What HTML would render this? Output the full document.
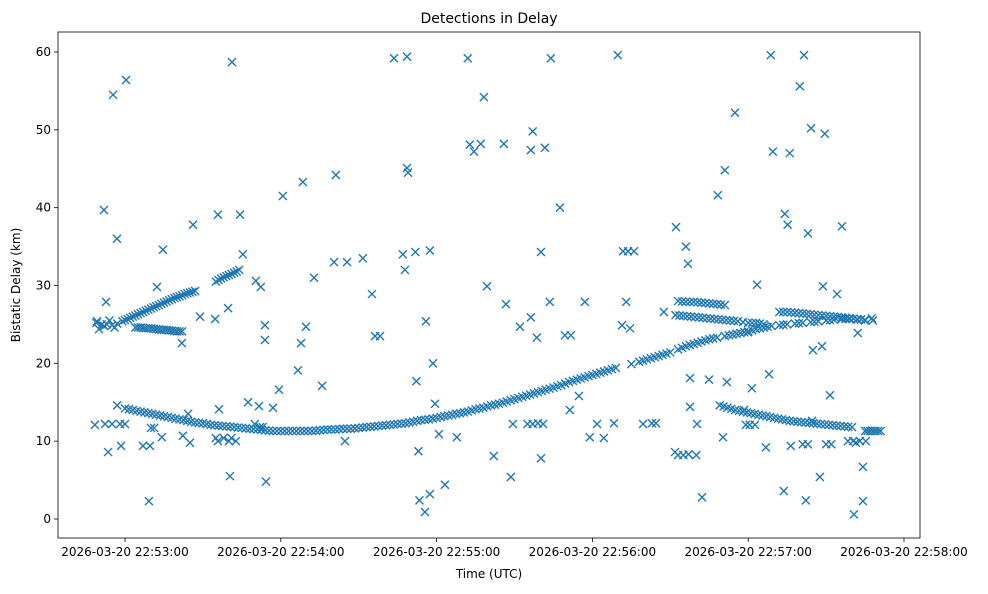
<!DOCTYPE html>
<html><head><meta charset="utf-8"><style>
body{margin:0;background:#fff;font-family:"DejaVu Sans","Liberation Sans",sans-serif;}
svg text{font-family:"DejaVu Sans","Liberation Sans",sans-serif;fill:#000;}
</style></head><body>
<svg id="chart" width="988" height="590">
<text x="489" y="23" font-size="14" text-anchor="middle">Detections in Delay</text>
<text x="489" y="578" font-size="12" text-anchor="middle">Time (UTC)</text>
<text transform="translate(20,285) rotate(-90)" font-size="12" text-anchor="middle">Bistatic Delay (km)</text>
<g id="marks"></g>
<g id="axes"></g>
</svg>
<script>
// seconds after 22:53:00 UTC, bistatic delay in km
const lowTrackT=[-3,0,3,6,9,12,15,18,21,24,27,30,33,36,39,42,45,48,51,54,57,60,63,66,69,72,75,78,81,84,87,90,93,96,99,102,105,108,111,114,117,120,123,126,129,132,135,138,141,144,147,150,153,156,159,162,165,168,171,174,177,180,183,186,189,195,198,201,204,207,210,213,216,219,222,225,228,231,234,237,240,243,246,249,252,255,258,261,264,267,270,273,276,279,282,285,288];
const lowTrackV=[14.6,14.2,14.0,13.8,13.6,13.4,13.2,13.0,12.8,12.6,12.4,12.3,12.1,12.0,11.9,11.8,11.7,11.6,11.5,11.4,11.3,11.3,11.3,11.3,11.3,11.3,11.4,11.5,11.5,11.6,11.6,11.7,11.8,11.9,12.0,12.1,12.2,12.3,12.5,12.7,12.8,13.0,13.2,13.4,13.6,13.8,14.1,14.3,14.6,14.8,15.1,15.4,15.7,16.0,16.3,16.6,16.9,17.2,17.6,17.9,18.2,18.5,18.8,19.1,19.4,19.9,20.2,20.5,20.8,21.1,21.4,21.8,22.2,22.5,22.8,23.1,23.3,23.5,23.7,23.9,24.1,24.4,24.6,24.8,24.9,25.0,25.1,25.2,25.3,25.4,25.5,25.6,25.7,25.7,25.6,25.5,25.5];
const lowTrackExtraT=[1.5,4.5,7.5,10.5,13.5,16.5,19.5,22.5,25.5,28.5,31.5,34.5,37.5,40.5,43.5,46.5,49.5,52.5,55.5,58.5,61.5,64.5,67.5,70.5,73.5,76.5,79.5,82.5,85.5,88.5,91.5,94.5,97.5,100.5,103.5,106.5,109.5,112.5,115.5,118.5,121.5,124.5,127.5,130.5,133.5,136.5,139.5,142.5,145.5,148.5,151.5,154.5,157.5,160.5,163.5,166.5,169.5,172.5,175.5,178.5,181.5,184.5,187.5,199.5,202.5,205.5,208.5,214.5,217.5,220.5,223.5,226.5,232.5,235.5,238.5,241.5,244.5,247.5,253.5,259.5,265.5,271.5,277.5];
const lowTrackExtraV=[14.1,13.9,13.7,13.5,13.3,13.1,12.9,12.7,12.5,12.35,12.2,12.05,11.95,11.85,11.75,11.65,11.55,11.45,11.35,11.3,11.3,11.3,11.3,11.3,11.35,11.45,11.5,11.55,11.6,11.65,11.75,11.85,11.95,12.05,12.15,12.25,12.4,12.6,12.75,12.9,13.1,13.3,13.5,13.7,13.95,14.2,14.45,14.7,14.95,15.25,15.55,15.85,16.15,16.45,16.75,17.05,17.4,17.75,18.05,18.35,18.65,18.95,19.25,20.35,20.65,20.95,21.25,22.0,22.35,22.65,22.95,23.2,23.6,23.8,24.0,24.25,24.5,24.7,24.95,25.15,25.35,25.55,25.7];
const upperLeftT=[-11,-9,-7,-5,-3,-1,1,3,5,7,9,11,13,15,17,19,21,23,25,27,35,37,39,41,43,44,-10,-8,-6,-4,0,2,4,6,8,10,12,14,16,18,20,22,24,26,36,38,40,42];
const upperLeftV=[25.2,25.0,25.0,24.9,25.1,25.4,25.7,26.0,26.3,26.6,26.9,27.2,27.5,27.8,28.1,28.4,28.6,28.9,29.1,29.3,30.5,30.9,31.2,31.5,31.8,32.0,24.4,24.8,25.5,24.6,25.55,25.85,26.15,26.45,26.75,27.05,27.35,27.65,27.95,28.25,28.5,28.75,29.0,29.2,30.7,31.05,31.35,31.65];
const midLeftT=[4,6,8,10,12,14,16,18,20,22,5,7,9,11,13,15,17,19,21];
const midLeftV=[24.6,24.6,24.5,24.5,24.4,24.3,24.3,24.2,24.1,24.1,24.6,24.55,24.5,24.45,24.35,24.3,24.25,24.15,24.1];
const rightUpperT=[213,216,219,222,225,228,231,212,215,218,221,224,227,230,233,236,240,243,246,252,255,258,261,264,267,270,273,276,279,282,285,214.5,217.5,220.5,223.5,226.5,229.5,213.5,216.5,219.5,222.5,225.5,228.5,231.5,234.5,238,241.5,244.5,253.5,256.5,259.5,262.5,265.5,268.5,271.5,274.5,277.5,280.5,283.5];
const rightUpperV=[28.0,27.9,27.9,27.8,27.7,27.6,27.5,26.2,26.1,26.0,25.9,25.8,25.7,25.6,25.5,25.4,25.2,25.2,25.0,26.6,26.6,26.5,26.4,26.3,26.2,26.1,26.0,25.9,25.8,25.7,25.6,27.95,27.9,27.85,27.75,27.65,27.55,26.15,26.05,25.95,25.85,25.75,25.65,25.55,25.45,25.3,25.2,25.1,26.6,26.55,26.45,26.35,26.25,26.15,26.05,25.95,25.85,25.75,25.65];
const rightLowT=[229,232,235,238,241,244,247,250,253,256,259,262,265,268,271,274,277,280,285,287,289,291,230.5,233.5,236.5,239.5,242.5,245.5,248.5,251.5,254.5,257.5,260.5,263.5,266.5,269.5,272.5,275.5,278.5,286,288,290];
const rightLowV=[14.6,14.3,14.0,13.8,13.6,13.4,13.2,13.0,12.8,12.6,12.5,12.4,12.3,12.2,12.1,12.0,11.9,11.8,11.3,11.3,11.3,11.3,14.45,14.15,13.9,13.7,13.5,13.3,13.1,12.9,12.7,12.55,12.45,12.35,12.25,12.15,12.05,11.95,11.85,11.3,11.3,11.3];
const outlierT=[-10.8,-8.1,-7.3,-4.6,-3.1,0.4,-6.5,-11.6,-7.7,-5,-1.9,0,-1.5,9.2,6.9,9.6,10,11.2,14.2,12.3,14.6,21.9,26.2,24.3,22.3,25,28.9,34.7,35.8,36.2,35.8,40.4,41.2,39.7,40,42.7,44.3,45.4,47.4,50.4,52.3,51.6,53.9,53.9,54.3,57,59.3,60.8,66.6,67.8,68.5,69.7,72.8,75.9,81.2,80.5,84.7,85.5,91.6,95.1,96.3,98.2,103.6,107,107.8,108.6,108.6,109,111.8,112.2,113,113.4,115.5,115.9,117.4,117.4,118.6,119.4,120.9,123.2,127.8,132,132.8,134.4,137,138.2,139.4,142,145.9,148.6,146.7,149.4,152.1,156.3,157,156.3,160.2,160.2,158.6,161.7,164,163.6,167.5,169.4,171.7,171.3,174.8,177.1,179,181.8,184.4,188.3,189.8,191.4,191.8,193,193.7,194.5,196,199.5,202.9,204.5,207.5,211.8,212.2,216,216.8,217.6,217.6,220.3,222.2,224.9,228.3,231,231.8,230.3,234.9,238.4,239.9,241.4,243.4,246.8,248,248.7,249.5,253.7,254.1,255.2,256,256.4,259.9,261.5,262.2,263,264.2,264.6,264.9,267.6,268.4,268.8,269.5,271.5,274.2,276.1,280.7,281.5,282.2,284.2,284.2,287.6,261,263,270,272,278.4,280.4,283,285.3,239.1,240.6,242.6,213,215,217,220,155,157,159,161,50,52,53,35,38,41];
const outlierV=[25.4,39.7,27.9,54.5,36.0,56.4,8.6,12.1,12.2,12.2,12.2,12.2,9.4,2.3,9.4,9.4,11.7,11.7,10.5,29.8,34.6,22.6,37.8,13.5,10.7,9.8,26.0,25.7,39.1,14.1,10.0,5.5,58.7,27.1,10.0,10.0,39.1,34.0,15.0,30.6,29.8,14.5,24.9,23.0,4.8,14.3,16.6,41.5,19.1,22.6,43.3,24.7,31.0,17.1,44.2,33.0,10.0,33.0,33.5,28.9,23.5,23.5,59.2,34.0,32.0,59.4,45.1,44.5,34.3,17.7,8.7,2.4,0.9,25.4,3.2,34.5,20.0,14.8,10.9,4.4,10.5,59.2,48.1,47.2,48.2,54.2,29.9,8.1,48.2,5.4,27.6,12.2,24.7,25.9,49.8,47.4,7.8,34.3,23.3,47.7,59.2,27.9,40.0,23.6,23.6,14.0,15.8,27.9,10.5,12.2,10.4,12.3,59.6,24.9,34.4,27.9,34.4,24.5,34.4,12.2,12.3,12.3,26.6,8.6,37.5,35.0,32.8,18.1,14.4,12.2,2.8,17.9,41.6,44.8,17.6,10.5,52.2,14.0,24.0,16.8,30.1,9.2,18.6,59.6,47.2,3.6,39.2,37.8,47.0,9.4,55.6,59.6,2.4,36.7,50.2,12.6,21.7,5.4,22.2,29.9,49.5,15.9,28.9,37.6,0.6,9.8,23.9,6.7,2.3,25.8,9.6,9.6,9.6,9.6,10.0,10.0,10.0,10.0,12.1,12.1,12.1,8.2,8.2,8.3,8.2,12.2,12.2,12.3,12.2,12.2,11.8,11.8,10.4,10.4,10.4];
const yTicks=[0,10,20,30,40,50,60];
const xTicks=[0,60,120,180,240,300];
const xTickLabels=["2026-03-20 22:53:00","2026-03-20 22:54:00","2026-03-20 22:55:00","2026-03-20 22:56:00","2026-03-20 22:57:00","2026-03-20 22:58:00"];

const X0=58,X1=920,Y0=32,Y1=538;
function xs(t){return 125+t*155.8/60;}
function ys(v){return 519-v*467/60;}
const NS="http://www.w3.org/2000/svg";
const marks=document.getElementById('marks');
const axes=document.getElementById('axes');
function drawSeries(T,V,name){
  for(let i=0;i<T.length;i++){
    const x=xs(T[i]),y=ys(V[i]);
    const p=document.createElementNS(NS,'path');
    p.setAttribute('d',`M${x-4},${y-4}L${x+4},${y+4}M${x-4},${y+4}L${x+4},${y-4}`);
    p.setAttribute('stroke','#1f77b4');
    p.setAttribute('stroke-width','1.4');
    
    
    marks.appendChild(p);
  }
}
drawSeries(lowTrackT,lowTrackV,'low-track-point');
drawSeries(lowTrackExtraT,lowTrackExtraV,'low-track-point');
drawSeries(upperLeftT,upperLeftV,'upper-left-track-point');
drawSeries(midLeftT,midLeftV,'mid-left-track-point');
drawSeries(rightUpperT,rightUpperV,'right-upper-track-point');
drawSeries(rightLowT,rightLowV,'right-low-track-point');
drawSeries(outlierT,outlierV,'outlier-point');

const frame=document.createElementNS(NS,'rect');
frame.setAttribute('x',X0);frame.setAttribute('y',Y0);
frame.setAttribute('width',X1-X0);frame.setAttribute('height',Y1-Y0);
frame.setAttribute('fill','none');frame.setAttribute('stroke','#000');frame.setAttribute('stroke-width','0.8');


axes.appendChild(frame);
yTicks.forEach(v=>{
  const y=ys(v);
  const l=document.createElementNS(NS,'line');
  l.setAttribute('x1',X0-4);l.setAttribute('x2',X0);l.setAttribute('y1',y);l.setAttribute('y2',y);
  l.setAttribute('stroke','#000');l.setAttribute('stroke-width','0.8');
  
  
  axes.appendChild(l);
  const tx=document.createElementNS(NS,'text');
  tx.setAttribute('x',X0-7);tx.setAttribute('y',y+4);tx.setAttribute('font-size','12');tx.setAttribute('text-anchor','end');
  tx.textContent=v;
  
  
  axes.appendChild(tx);
});
xTicks.forEach((t,i)=>{
  const x=xs(t);
  const l=document.createElementNS(NS,'line');
  l.setAttribute('x1',x);l.setAttribute('x2',x);l.setAttribute('y1',Y1);l.setAttribute('y2',Y1+4);
  l.setAttribute('stroke','#000');l.setAttribute('stroke-width','0.8');
  
  
  axes.appendChild(l);
  const tx=document.createElementNS(NS,'text');
  tx.setAttribute('x',x);tx.setAttribute('y',Y1+18);tx.setAttribute('font-size','12');tx.setAttribute('text-anchor','middle');
  tx.textContent=xTickLabels[i];
  
  
  axes.appendChild(tx);
});
</script>
</body></html>
